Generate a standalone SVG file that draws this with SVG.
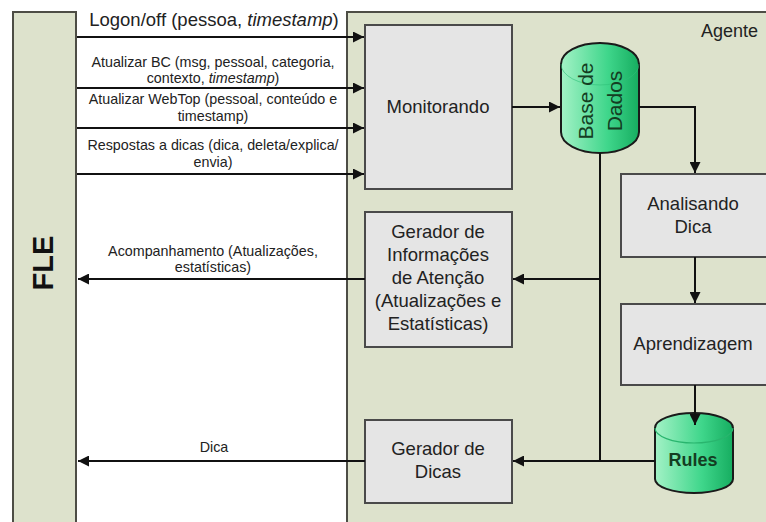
<svg xmlns="http://www.w3.org/2000/svg" width="766" height="522" viewBox="0 0 766 522">
<style>
.panel{fill:#dde2cc;stroke:#4d4d45;stroke-width:2}
.box{fill:#e5e5e5;stroke:#4a4a4a;stroke-width:2}
.cyl{fill:url(#g);stroke:#1a1a1a;stroke-width:2}
.t{font-family:"Liberation Sans",Arial,sans-serif;fill:#222;text-anchor:middle}
.s{font-size:14.3px}
.m{font-size:18.5px}
.c{fill:none;stroke:#111;stroke-width:2}
</style>
<defs>
<linearGradient id="g" x1="0" y1="0" x2="1" y2="0">
<stop offset="0" stop-color="#a3f2c6"/>
<stop offset="0.6" stop-color="#3fd68b"/>
<stop offset="1" stop-color="#16ad60"/>
</linearGradient>
<marker id="a" viewBox="0 0 10 10" refX="10" refY="5" markerWidth="12" markerHeight="11" markerUnits="userSpaceOnUse" orient="auto">
<path d="M0,0 L10,5 L0,10 z" fill="#111"/>
</marker>
</defs>
<rect width="766" height="522" fill="#fff"/>
<g id="fle">
<rect class="panel" x="13" y="12" width="63" height="512"/>
<text class="t" transform="translate(53,263) rotate(-90)" style="font-size:29px;font-weight:bold;fill:#111">FLE</text>
</g>
<g id="agente">
<rect class="panel" x="347" y="12" width="425" height="512"/>
<text class="t" x="758" y="37" style="font-size:18px;text-anchor:end">Agente</text>
</g>
<g id="monitorando">
<rect class="box" x="365" y="25" width="147" height="164"/>
<text class="t m" x="438" y="113">Monitorando</text>
</g>
<g id="gerador-info">
<rect class="box" x="365" y="212" width="147" height="135"/>
<text class="t m" x="438" y="238">Gerador de</text>
<text class="t m" x="438" y="261">Informações</text>
<text class="t m" x="438" y="284">de Atenção</text>
<text class="t m" x="438" y="307">(Atualizações e</text>
<text class="t m" x="438" y="330">Estatísticas)</text>
</g>
<g id="gerador-dicas">
<rect class="box" x="365" y="420" width="147" height="83"/>
<text class="t m" x="438" y="455">Gerador de</text>
<text class="t m" x="438" y="478">Dicas</text>
</g>
<g id="analisando">
<rect class="box" x="621" y="174" width="150" height="83"/>
<text class="t m" x="693" y="210">Analisando</text>
<text class="t m" x="693" y="233">Dica</text>
</g>
<g id="aprendizagem">
<rect class="box" x="621" y="304" width="150" height="81"/>
<text class="t m" x="693" y="350">Aprendizagem</text>
</g>
<g id="base-de-dados">
<path class="cyl" d="M561,64 A39,21 0 0 1 639,64 L639,132 A39,21 0 0 1 561,132 Z"/>
<path d="M561,64 A39,21 0 0 0 639,64" fill="none" stroke="#2fbf78" stroke-width="1" opacity="0.6"/>
<text class="t" transform="translate(593,101) rotate(-90)" style="font-size:21px;fill:#143d22">Base de</text>
<text class="t" transform="translate(622,101) rotate(-90)" style="font-size:21px;fill:#143d22">Dados</text>
</g>
<g id="rules">
<path class="cyl" d="M655,428 A39,15 0 0 1 733,428 L733,479 A39,14 0 0 1 655,479 Z"/>
<path d="M655,428 A39,15 0 0 0 733,428" fill="none" stroke="#29b56e" stroke-width="1.2"/>
<text class="t" x="693" y="466" style="font-size:18px;font-weight:bold;fill:#143d22">Rules</text>
</g>
<g id="connectors">
<line class="c" x1="77" y1="37" x2="364" y2="37" marker-end="url(#a)"/>
<line class="c" x1="77" y1="88" x2="364" y2="88" marker-end="url(#a)"/>
<line class="c" x1="77" y1="128" x2="364" y2="128" marker-end="url(#a)"/>
<line class="c" x1="77" y1="174" x2="364" y2="174" marker-end="url(#a)"/>
<line class="c" x1="365" y1="279" x2="78" y2="279" marker-end="url(#a)"/>
<line class="c" x1="365" y1="461" x2="78" y2="461" marker-end="url(#a)"/>
<line class="c" x1="512" y1="107" x2="560" y2="107" marker-end="url(#a)"/>
<polyline class="c" points="639,107 695,107 695,173" marker-end="url(#a)"/>
<line class="c" x1="695" y1="257" x2="695" y2="303" marker-end="url(#a)"/>
<line class="c" x1="695" y1="385" x2="695" y2="425" marker-end="url(#a)"/>
<line class="c" x1="600" y1="153" x2="600" y2="461"/>
<line class="c" x1="600" y1="279" x2="513" y2="279" marker-end="url(#a)"/>
<line class="c" x1="655" y1="461" x2="513" y2="461" marker-end="url(#a)"/>
</g>
<g id="labels">
<text class="t" x="214" y="26" style="font-size:18.5px">Logon/off (pessoa, <tspan font-style="italic">timestamp</tspan>)</text>
<text class="t s" x="213" y="67">Atualizar BC (msg, pessoal, categoria,</text>
<text class="t s" x="213" y="83">contexto, <tspan font-style="italic">timestamp</tspan>)</text>
<text class="t s" x="213" y="104">Atualizar WebTop (pessoal, conteúdo e</text>
<text class="t s" x="213" y="121">timestamp)</text>
<text class="t s" x="213" y="150">Respostas a dicas (dica, deleta/explica/</text>
<text class="t s" x="213" y="167">envia)</text>
<text class="t s" x="213" y="256">Acompanhamento (Atualizações,</text>
<text class="t s" x="213" y="272">estatísticas)</text>
<text class="t s" x="214" y="452">Dica</text>
</g>
</svg>
